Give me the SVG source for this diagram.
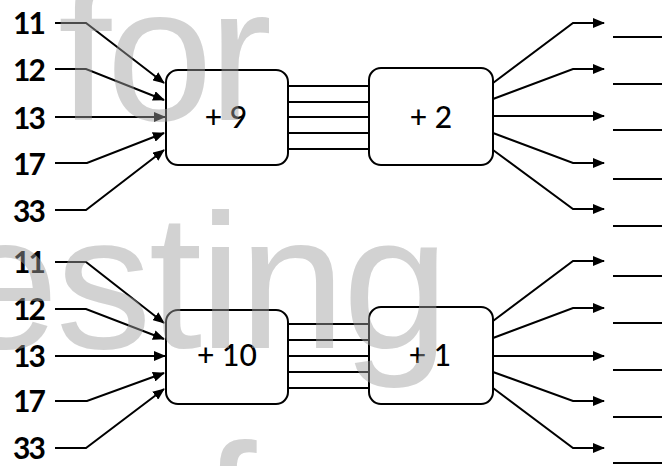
<svg xmlns="http://www.w3.org/2000/svg" width="662" height="466" viewBox="0 0 662 466">
<style>
.lbl{font-family:Lato,"Liberation Sans",sans-serif;font-size:30px;font-weight:700;fill:#000;letter-spacing:-2px}
.op{font-family:Lato,"Liberation Sans",sans-serif;font-size:30px;font-weight:500;fill:#000;text-anchor:middle}
.box{fill:#fff;stroke:#000;stroke-width:2}
.c{fill:none;stroke:#000;stroke-width:2}
.a{marker-end:url(#ah)}
.wm{font-family:"Liberation Sans",Arial,sans-serif;font-size:192px;fill:#a0a0a0;fill-opacity:0.47}
</style>
<defs>
<marker id="ah" markerUnits="userSpaceOnUse" markerWidth="12" markerHeight="10" refX="11" refY="5" orient="auto">
<path d="M0,0 L12,5 L0,10 Z" fill="#000"/>
</marker>
</defs>
<rect width="662" height="466" fill="#fff"/>
<g id="connectors">
<path class="c a" d="M55,23 H86 L164,83"/>
<path class="c a" d="M55,69 H86 L164,100"/>
<path class="c a" d="M55,117 H165"/>
<path class="c a" d="M55,163 H87 L164,133"/>
<path class="c a" d="M55,210 H86 L164,150"/>
<path class="c" d="M288,86 H369 M288,102 H369 M288,117 H369 M288,133 H369 M288,149 H369"/>
<path class="c a" d="M493,83 L573,23 H604"/>
<path class="c a" d="M493,99 L573,69 H604"/>
<path class="c a" d="M493,116 H604"/>
<path class="c a" d="M493,133 L573,163 H604"/>
<path class="c a" d="M493,150 L573,209 H604"/>
<path class="c a" d="M55,262 H86 L164,323"/>
<path class="c a" d="M55,309 H86 L164,339"/>
<path class="c a" d="M55,356 H165"/>
<path class="c a" d="M55,401 H87 L164,373"/>
<path class="c a" d="M55,448 H86 L164,389"/>
<path class="c" d="M288,324 H369 M288,340 H369 M288,356 H369 M288,372 H369 M288,388 H369"/>
<path class="c a" d="M493,321 L573,261 H604"/>
<path class="c a" d="M493,338 L573,308 H604"/>
<path class="c a" d="M493,356 H604"/>
<path class="c a" d="M493,372 L573,401 H604"/>
<path class="c a" d="M493,388 L573,448 H604"/>
</g>
<g id="blanks">
<path class="c" d="M613,37 H662 M613,84 H662 M613,130 H662 M613,179 H662 M613,226 H662"/>
<path class="c" d="M613,276 H662 M613,323 H662 M613,370 H662 M613,417 H662 M613,463 H662"/>
</g>
<g id="inputs-top">
<text class="lbl" x="13" y="34">11</text>
<text class="lbl" x="13" y="81">12</text>
<text class="lbl" x="13" y="129">13</text>
<text class="lbl" x="13" y="175">17</text>
<text class="lbl" x="13" y="222">33</text>
</g>
<g id="inputs-bottom">
<text class="lbl" x="13" y="273">11</text>
<text class="lbl" x="13" y="320">12</text>
<text class="lbl" x="13" y="367">13</text>
<text class="lbl" x="13" y="412">17</text>
<text class="lbl" x="13" y="459">33</text>
</g>
<g id="node-plus9">
<rect class="box" x="166" y="70" width="122" height="95" rx="12"/>
<text class="op" x="226" y="128">+ 9</text>
</g>
<g id="node-plus2">
<rect class="box" x="369" y="68" width="124" height="97" rx="12"/>
<text class="op" x="431" y="128">+ 2</text>
</g>
<g id="node-plus10">
<rect class="box" x="166" y="310" width="122" height="94" rx="12"/>
<text class="op" x="227" y="366">+ 10</text>
</g>
<g id="node-plus1">
<rect class="box" x="369" y="307" width="124" height="97" rx="12"/>
<text class="op" x="430" y="366">+ 1</text>
</g>
<g id="watermark">
<text class="wm" x="58" y="120" font-size="205" letter-spacing="-5">for</text>
<text class="wm" x="-48" y="348" letter-spacing="-3">esting</text>
<text class="wm" x="203" y="578">f</text>
</g>
</svg>
